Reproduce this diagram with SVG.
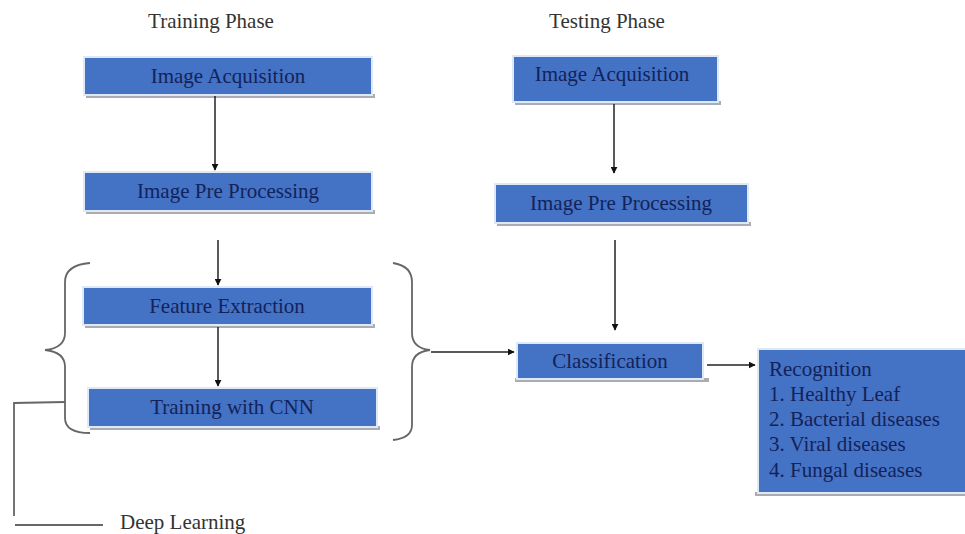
<svg xmlns="http://www.w3.org/2000/svg" width="965" height="534" viewBox="0 0 965 534">
<defs>
<marker id="ah" viewBox="0 0 10 10" refX="9" refY="5" markerWidth="7" markerHeight="7" orient="auto" markerUnits="userSpaceOnUse">
<path d="M0,0 L10,5 L0,10 z" fill="#111"/>
</marker>
<style>
.box{fill:#4472c4;stroke:#dfe8f6;stroke-width:2}
.sh{fill:#a9acb2}
.t{font-family:"Liberation Serif","Times New Roman",serif;font-size:21px;fill:#13225a;text-anchor:middle}
.tl{font-family:"Liberation Serif","Times New Roman",serif;font-size:21px;fill:#13225a}
.h{font-family:"Liberation Serif","Times New Roman",serif;font-size:21px;fill:#333;text-anchor:middle}
.c{stroke:#222;stroke-width:1.5;fill:none}
.br{stroke:#666;stroke-width:1.8;fill:none}
</style>
</defs>
<rect width="965" height="534" fill="#fff"/>
<text class="h" x="211" y="28">Training Phase</text>
<text class="h" x="607" y="28">Testing Phase</text>

<g id="train-acq">
<rect class="sh" x="86" y="94" width="289" height="4"/>
<rect class="box" x="84" y="57" width="288" height="38"/>
<text class="t" x="228" y="83">Image Acquisition</text>
</g>
<g id="train-pre">
<rect class="sh" x="86" y="210" width="289" height="4"/>
<rect class="box" x="84" y="172" width="288" height="39"/>
<text class="t" x="228" y="198">Image Pre Processing</text>
</g>
<g id="feat">
<rect class="sh" x="85" y="324" width="290" height="4"/>
<rect class="box" x="83" y="287" width="289" height="38"/>
<text class="t" x="227" y="313">Feature Extraction</text>
</g>
<g id="cnn">
<rect class="sh" x="90" y="426" width="290" height="4"/>
<rect class="box" x="88" y="388" width="289" height="39"/>
<text class="t" x="232" y="414">Training with CNN</text>
</g>
<g id="test-acq">
<rect class="sh" x="515" y="101" width="206" height="4"/>
<rect class="box" x="513" y="56" width="205" height="46"/>
<text class="t" x="612" y="81">Image Acquisition</text>
</g>
<g id="test-pre">
<rect class="sh" x="497" y="222" width="254" height="4"/>
<rect class="box" x="495" y="184" width="253" height="39"/>
<text class="t" x="621" y="210">Image Pre Processing</text>
</g>
<g id="classif">
<rect class="sh" x="515" y="378" width="194" height="4"/>
<rect class="box" x="517" y="343" width="186" height="36"/>
<text class="t" x="610" y="368">Classification</text>
</g>
<g id="recog">
<rect class="sh" x="755" y="492" width="210" height="4"/>
<rect class="box" x="758" y="349" width="210" height="144"/>
<text class="tl" x="769" y="376">Recognition</text>
<text class="tl" x="769" y="401">1. Healthy Leaf</text>
<text class="tl" x="769" y="426">2. Bacterial diseases</text>
<text class="tl" x="769" y="451">3. Viral diseases</text>
<text class="tl" x="769" y="477">4. Fungal diseases</text>
</g>
<g id="braces">
<path class="br" d="M90,263 Q65,265 65,282 L65,333 Q65,348 45,350 Q65,352 65,367 L65,418 Q65,433 90,433"/>
<path class="br" d="M393,263 Q412,266 412,282 L412,333 Q412,348 430,350 Q412,352 412,367 L412,425 Q412,438 393,440"/>
</g>
<g id="deep-learning">
<path class="br" d="M65,402 L14,403 L14,516"/>
<path class="br" d="M15,525 L103,525"/>
<text class="tl" x="120" y="529" style="fill:#333">Deep Learning</text>
</g>
<g id="connectors">
<line class="c" x1="215" y1="96" x2="215" y2="170" marker-end="url(#ah)"/>
<line class="c" x1="218" y1="240" x2="218" y2="285" marker-end="url(#ah)"/>
<line class="c" x1="218" y1="327" x2="218" y2="386" marker-end="url(#ah)"/>
<line class="c" x1="614" y1="104" x2="614" y2="173" marker-end="url(#ah)"/>
<line class="c" x1="615" y1="240" x2="615" y2="330" marker-end="url(#ah)"/>
<line class="c" x1="431" y1="352" x2="514" y2="352" marker-end="url(#ah)"/>
<line class="c" x1="707" y1="365" x2="755" y2="365" marker-end="url(#ah)"/>
</g>
</svg>
